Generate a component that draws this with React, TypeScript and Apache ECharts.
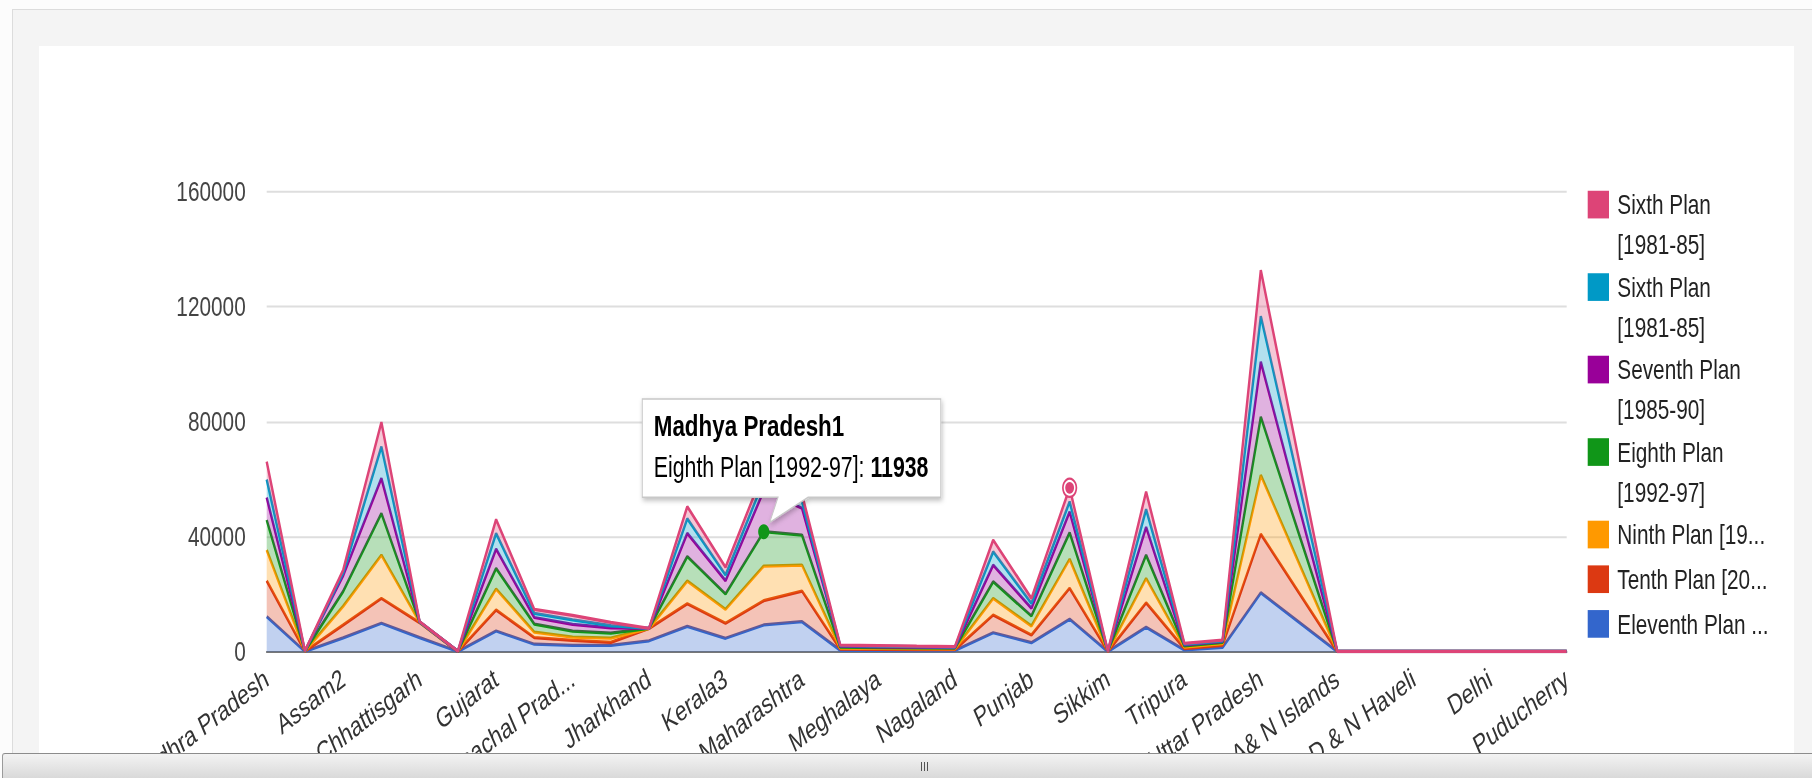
import { useEffect, useRef } from "react";
import * as echarts from "echarts";

// vertical stretch of the reference picture
const S = 1.35;
const W = 1812;
const H = 778 / S;
const FONT = "'Liberation Sans', Arial, sans-serif";
const FS = 20.8;

const categories = [
  "Andhra Pradesh", "Arunachal Pradesh", "Assam2", "Bihar", "Chhattisgarh", "Goa", "Gujarat",
  "Haryana", "Himachal Pradesh", "Jammu & Kashmir", "Jharkhand", "Karnataka", "Kerala3",
  "Madhya Pradesh1", "Maharashtra", "Manipur", "Meghalaya", "Mizoram", "Nagaland", "Orissa",
  "Punjab", "Rajasthan", "Sikkim", "Tamil Nadu", "Tripura", "Uttarakhand", "Uttar Pradesh",
  "West Bengal", "A& N Islands", "Chandigarh", "D & N Haveli", "Daman & Diu", "Delhi",
  "Lakshadweep", "Puducherry",
];

const seriesNames = [
  "Eleventh Plan [2007-12]", "Tenth Plan [2002-07]", "Ninth Plan [1997-02]",
  "Eighth Plan [1992-97]", "Seventh Plan [1985-90]", "Sixth Plan [1981-85]", "Sixth Plan [1981-85]",
];
const seriesColors = ["#3366cc", "#dc3912", "#ff9900", "#109618", "#990099", "#0099c6", "#dd4477"];

const eleventh = [12200, 60, 4800, 9900, 4900, 50, 7200, 2600, 2200, 2200, 3800, 8800, 4660, 9290, 10430, 500, 450, 400, 400, 6600, 3130, 11300, 40, 8500, 600, 1500, 20500, 10250, 30, 30, 30, 30, 30, 30, 30];
const tenth = [12500, 40, 4500, 8650, 5200, 30, 7300, 2300, 1750, 1050, 4250, 7900, 5210, 8450, 10670, 400, 400, 350, 300, 6160, 2680, 10800, 30, 8500, 500, 800, 20400, 10200, 20, 20, 20, 20, 20, 20, 20];
const ninth = [10700, 40, 6500, 15050, 100, 30, 7300, 1900, 1150, 1500, 30, 7900, 4870, 12060, 9050, 350, 300, 300, 300, 5810, 3130, 10100, 30, 8500, 500, 500, 20500, 10250, 20, 20, 20, 20, 20, 20, 20];
const eighth = [10400, 40, 5200, 14500, 100, 30, 7200, 2800, 2050, 1750, 20, 8500, 5330, 11938, 10430, 350, 300, 300, 250, 5780, 3480, 9200, 20, 8100, 400, 400, 20300, 10150, 20, 20, 20, 20, 20, 20, 20];
const seventh = [7800, 30, 5500, 12200, 50, 20, 6700, 2300, 2350, 1750, 20, 8100, 4630, 14300, 9320, 300, 250, 200, 200, 5800, 2670, 7300, 20, 9700, 400, 400, 19100, 9550, 20, 20, 20, 20, 20, 20, 20];
const sixthA = [6300, 20, 900, 11000, 50, 20, 5450, 1400, 1600, 800, 10, 5100, 1980, 3500, 2400, 200, 200, 200, 150, 4630, 1740, 3500, 10, 6200, 250, 200, 15900, 7950, 10, 10, 10, 10, 10, 10, 10];
const sixthB = [6200, 20, 1000, 8500, 50, 20, 4850, 1400, 1500, 1150, 20, 4200, 2720, 3200, 2500, 200, 200, 150, 150, 4070, 1740, 4800, 10, 6100, 250, 250, 16000, 8000, 10, 10, 10, 10, 10, 10, 10];

const seriesData = [eleventh, tenth, ninth, eighth, seventh, sixthA, sixthB];

// legend, top to bottom (reverse of stacking order), as truncated by the original chart
const legendLines = [
  ["Sixth Plan", "[1981-85]"],
  ["Sixth Plan", "[1981-85]"],
  ["Seventh Plan", "[1985-90]"],
  ["Eighth Plan", "[1992-97]"],
  ["Ninth Plan [19..."],
  ["Tenth Plan [20..."],
  ["Eleventh Plan ..."],
];

const Y_MIN = 0;
const Y_MAX = 160000;
const Y_STEP = 40000;

const tooltipCat = 13;
const tooltipSeries = 3;
const hoverCat = 21;
const hoverSeries = 6;

const stackedAt = (cat: number, upto: number) => {
  let s = 0;
  for (let i = 0; i <= upto; i++) s += seriesData[i][cat];
  return s;
};

export default function App() {
  const ref = useRef<HTMLDivElement>(null);

  useEffect(() => {
    document.body.style.margin = "0";
    const chart = echarts.init(ref.current!, null, { renderer: "svg", width: W, height: H });
    const plotLeft = 266.7;
    const plotRight = 1566.7;
    const plotTop = 191.7 / S;
    const plotBottom = 651.7 / S;

    chart.setOption({
      animation: false,
      textStyle: { fontFamily: FONT },
      grid: {
        left: plotLeft,
        right: W - plotRight,
        top: plotTop,
        bottom: H - plotBottom,
        containLabel: false,
        outerBoundsMode: "none",
      },
      xAxis: {
        type: "category",
        data: categories,
        boundaryGap: false,
        axisLine: { show: true, lineStyle: { color: "#777", width: 1.5 } },
        axisTick: { show: false },
        splitLine: { show: false },
        axisLabel: {
          interval: 1,
          rotate: 30,
          margin: 18,
          color: "#333",
          fontSize: FS,
          fontFamily: FONT,
          formatter: (v: string) => (v.length > 15 ? v.slice(0, 13) + "..." : v),
        },
      },
      yAxis: {
        type: "value",
        min: Y_MIN,
        max: Y_MAX,
        interval: Y_STEP,
        axisLine: { show: false },
        axisTick: { show: false },
        splitLine: { show: true, lineStyle: { color: "#dedede", width: 1.5 } },
        axisLabel: {
          margin: 21,
          color: "#444",
          fontSize: FS,
          fontFamily: FONT,
          formatter: (v: number) => String(v),
        },
      },
      series: seriesData.map((d, i) => ({
        name: seriesNames[i],
        type: "line",
        stack: "total",
        data: d,
        symbol: "none",
        showSymbol: false,
        lineStyle: { width: 2.4, color: seriesColors[i] },
        itemStyle: { color: seriesColors[i] },
        areaStyle: { color: seriesColors[i], opacity: 0.3 },
        emphasis: { disabled: true },
        z: 2 + i * 0.01,
      })),
    });

    // legend
    const graphics: any[] = [];
    let top = 141.3;
    const lineH = 29.6;
    legendLines.forEach((lines, k) => {
      const si = seriesData.length - 1 - k;
      graphics.push({
        type: "rect",
        shape: { x: 1587.7, y: top, width: 21.3, height: 20.5 },
        style: { fill: seriesColors[si] },
        z: 50,
      });
      lines.forEach((t, j) => {
        graphics.push({
          type: "text",
          x: 1617.3,
          y: top + 10.25 + j * lineH,
          style: { text: t, fill: "#222", fontSize: FS, fontFamily: FONT, verticalAlign: "middle", align: "left" },
          z: 50,
        });
      });
      top += lines.length === 2 ? 61.1 : 33.1;
    });

    // hover marker on Rajasthan
    const hv = chart.convertToPixel({ gridIndex: 0 }, [hoverCat, stackedAt(hoverCat, hoverSeries)]) as number[];
    const hc = seriesColors[hoverSeries];
    graphics.push(
      { type: "circle", shape: { cx: hv[0], cy: hv[1], r: 7.6 }, style: { fill: hc }, z: 60 },
      { type: "circle", shape: { cx: hv[0], cy: hv[1], r: 5.9 }, style: { fill: "#fff" }, z: 61 },
      { type: "circle", shape: { cx: hv[0], cy: hv[1], r: 4.4 }, style: { fill: hc }, z: 62 }
    );

    // tooltip on Madhya Pradesh1, Eighth Plan
    const tp = chart.convertToPixel({ gridIndex: 0 }, [tooltipCat, stackedAt(tooltipCat, tooltipSeries)]) as number[];
    const px = tp[0];
    const py = tp[1];
    graphics.push({
      type: "circle",
      shape: { cx: px, cy: py, r: 5.6 },
      style: { fill: seriesColors[tooltipSeries] },
      z: 70,
    });
    const L = px - 121.5, R = px + 177, T = py - 98.3, B = py - 25.5;
    graphics.push({
      type: "polygon",
      shape: {
        points: [
          [L, T], [R, T], [R, B], [px + 44.3, B], [px + 6, py - 7], [px + 14.3, B], [L, B],
        ],
      },
      style: {
        fill: "#fff",
        stroke: "#c8c8c8",
        lineWidth: 1,
        shadowBlur: 4,
        shadowOffsetX: 1,
        shadowOffsetY: 2,
        shadowColor: "rgba(0,0,0,0.25)",
      },
      z: 80,
    });
    graphics.push({
      type: "text",
      x: px - 110,
      y: py - 78.3,
      style: {
        text: categories[tooltipCat],
        fill: "#000",
        fontSize: 22.4,
        fontWeight: "bold",
        fontFamily: FONT,
        verticalAlign: "middle",
      },
      z: 81,
    });
    graphics.push({
      type: "text",
      x: px - 110,
      y: py - 47.9,
      style: {
        text: "{n|" + seriesNames[tooltipSeries] + ": }{b|" + String(seriesData[tooltipSeries][tooltipCat]) + "}",
        fontSize: 21.3,
        fontFamily: FONT,
        verticalAlign: "middle",
        rich: {
          n: { fill: "#000", fontSize: 21.3, fontFamily: FONT },
          b: { fill: "#000", fontSize: 21.3, fontFamily: FONT, fontWeight: "bold" },
        },
      },
      z: 81,
    });

    chart.setOption({ graphic: graphics });

    return () => chart.dispose();
  }, []);

  return (
    <div style={{ position: "fixed", left: 0, top: 0, width: W, height: 778, overflow: "hidden", background: "#fcfcfc" }}>
      <div
        style={{
          position: "absolute",
          left: 12,
          top: 9,
          right: 0,
          bottom: 0,
          background: "#f4f4f4",
          borderTop: "1px solid #dcdcdc",
          borderLeft: "1px solid #dcdcdc",
        }}
      />
      <div style={{ position: "absolute", left: 39, top: 46, width: 1755, height: 740, background: "#fff" }} />
      <div
        ref={ref}
        style={{
          position: "absolute",
          left: 0,
          top: 0,
          width: W,
          height: H,
          transform: `scaleY(${S})`,
          transformOrigin: "0 0",
        }}
      />
      <div
        style={{
          position: "absolute",
          left: 2,
          top: 753,
          width: W - 2,
          height: 25,
          background: "linear-gradient(#f3f3f3, #d8d8d8)",
          borderTop: "1px solid #8c8c8c",
          borderLeft: "1px solid #9a9a9a",
          borderTopLeftRadius: 3,
          zIndex: 5,
        }}
      >
        {[0, 3, 6].map((dx) => (
          <div
            key={dx}
            style={{ position: "absolute", left: 918 + dx, top: 8, width: 1, height: 9, background: "#555" }}
          />
        ))}
      </div>
    </div>
  );
}
